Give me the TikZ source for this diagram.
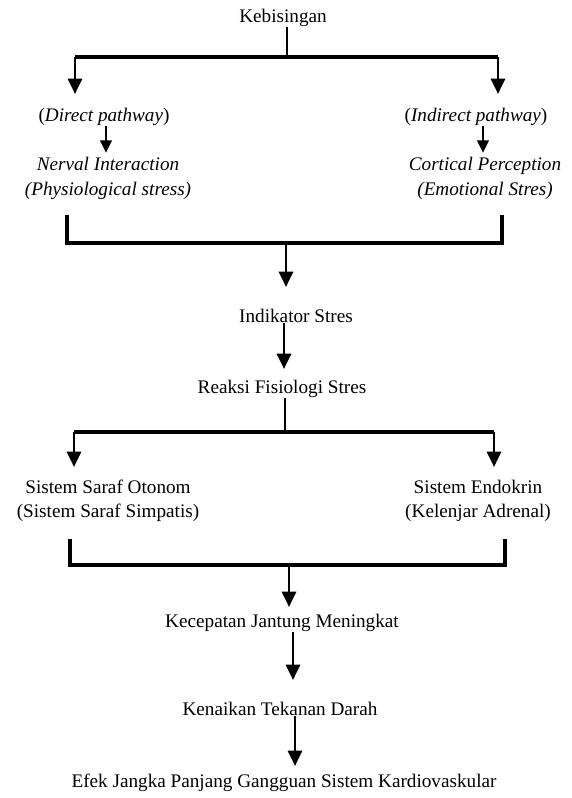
\documentclass[tikz,border=0pt]{standalone}
\usepackage{fontspec}
\setmainfont{Liberation Serif}
\usetikzlibrary{arrows.meta}
\begin{document}
\begin{tikzpicture}[x=0.75pt,y=-0.75pt,
  txt/.style={inner sep=0pt, font=\fontsize{14.4}{18.5}\selectfont, align=center},
  thinln/.style={line width=1.6pt},
  ln/.style={line width=2.3pt},
  arr/.style={line width=2.2pt,-{Triangle[width=10.5pt,length=11.5pt]}},
  sarr/.style={line width=2.2pt,-{Triangle[width=8.5pt,length=9.5pt]}}]
\useasboundingbox (0,0) rectangle (571,798);

% --- nodes
\node[txt] (keb) at (283,18) {Kebisingan};
\node[txt] (dp) at (104,117) {(\textit{Direct pathway})};
\node[txt] (idp) at (476,117) {(\textit{Indirect pathway})};
\node[txt,font=\fontsize{14.4}{18.75}\selectfont\itshape] (ni) at (108,178) {Nerval Interaction\\(Physiological stress)};
\node[txt,font=\fontsize{14.4}{18.75}\selectfont\itshape] (cp) at (485,178) {Cortical Perception\\(Emotional Stres)};
\node[txt] (ind) at (296,316) {Indikator Stres};
\node[txt] (rfs) at (282,389) {Reaksi Fisiologi Stres};
\node[txt,font=\fontsize{14.4}{18}\selectfont] (sso) at (108,501) {Sistem Saraf Otonom\\(Sistem Saraf Simpatis)};
\node[txt,font=\fontsize{14.4}{18}\selectfont] (se) at (478,501) {Sistem Endokrin\\(Kelenjar Adrenal)};
\node[txt] (kjm) at (282,623) {Kecepatan Jantung Meningkat};
\node[txt] (ktd) at (280,709) {Kenaikan Tekanan Darah};
\node[txt] (efek) at (284,783) {Efek Jangka Panjang Gangguan Sistem Kardiovaskular};

% --- coordinates
\coordinate (j1) at (287,57);
\coordinate (t1l) at (75,94);
\coordinate (t1r) at (498,94);
\coordinate (s1) at (106,153);
\coordinate (s2) at (483,153);
\coordinate (b1l) at (67,215);
\coordinate (b1r) at (502,215);
\coordinate (m1) at (286,243);
\coordinate (t3) at (286,287);
\coordinate (s4) at (284,369);
\coordinate (j2) at (285,432);
\coordinate (t2l) at (74,467);
\coordinate (t2r) at (494,467);
\coordinate (b2l) at (70,539);
\coordinate (b2r) at (505,539);
\coordinate (m2) at (289,565);
\coordinate (t4) at (289,607);
\coordinate (s5) at (293,680);
\coordinate (s6) at (295,766);

% --- connectors
\draw[thinln] (keb.south -| j1) -- (j1);
\draw[ln] (t1l |- j1) -- (t1r |- j1);
\draw[arr] (t1l |- j1) -- (t1l);
\draw[arr] (t1r |- j1) -- (t1r);
\draw[sarr] (dp.south -| s1) -- (s1);
\draw[sarr] (idp.south -| s2) -- (s2);

\draw[ln] (b1l) -- (b1l |- m1) -- (b1r |- m1) -- (b1r);
\draw[arr] (m1) -- (t3);
\draw[arr] (ind.south -| s4) -- (s4);

\draw[thinln] (rfs.south -| j2) -- (j2);
\draw[ln] (t2l |- j2) -- (t2r |- j2);
\draw[arr] (t2l |- j2) -- (t2l);
\draw[arr] (t2r |- j2) -- (t2r);

\draw[ln] (b2l) -- (b2l |- m2) -- (b2r |- m2) -- (b2r);
\draw[arr] (m2) -- (t4);
\draw[arr] (kjm.south -| s5) -- (s5);
\draw[arr] (ktd.south -| s6) -- (s6);
\end{tikzpicture}
\end{document}
